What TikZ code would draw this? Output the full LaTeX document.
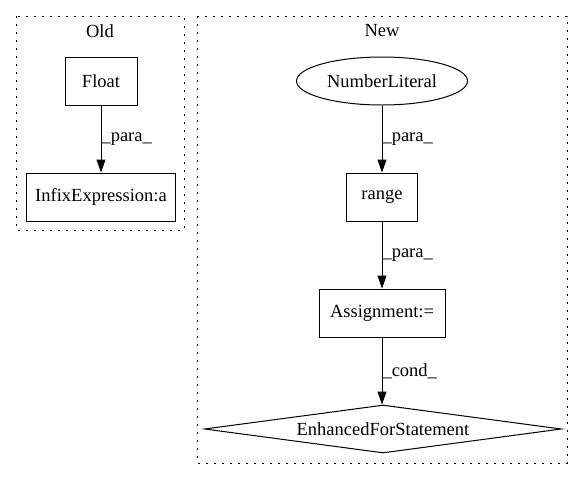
\documentclass[tikz,border=0pt]{standalone}
\usepackage{fontspec}
\setmainfont{Liberation Serif}
\usetikzlibrary{shapes.geometric, arrows.meta}

\begin{document}
\begin{tikzpicture}[x=1pt, y=-1pt, font=\fontsize{18.5}{22}\selectfont,
    box/.style={draw, line width=1pt, minimum height=48pt, inner sep=0pt},
    cluster/.style={draw, line width=1pt, dash pattern=on 2pt off 6pt},
    edge/.style={-{Triangle[length=13pt, width=9pt]}, line width=1pt},
    lbl/.style={anchor=west, inner sep=0pt}]
    \useasboundingbox (0,0) rectangle (584,480);
    % Old
    \draw [cluster] (16,16) rectangle (184,230);
    \node (oldtitle) at (100,31) {Old};
    \node [box, minimum width=72pt] (float) at (101,81) {Float};
    \node [box, minimum width=149pt] (infix) at (101,197) {InfixExpression:a};
    \draw [edge] (float) -- node [lbl] {\_para\_} (infix);
    % New
    \draw [cluster] (197,16) rectangle (567,463);
    \node (newtitle) at (382,31) {New};
    \node [ellipse, draw, line width=1pt, minimum width=171pt, minimum height=48pt, inner sep=0pt] (numlit) at (382,81) {NumberLiteral};
    \node [box, minimum width=71pt] (range) at (382,197) {range};
    \node [box, minimum width=126pt] (assign) at (382,313) {Assignment:=};
    \node [diamond, draw, line width=1pt, aspect=7.4, minimum width=357pt, minimum height=48pt, inner sep=0pt] (efor) at (383,429) {EnhancedForStatement};
    \draw [edge] (numlit) -- node [lbl] {\_para\_} (range);
    \draw [edge] (range) -- node [lbl] {\_para\_} (assign);
    \draw [edge] (assign) -- node [lbl] {\_cond\_} (efor.north -| assign.south);
\end{tikzpicture}
\end{document}
